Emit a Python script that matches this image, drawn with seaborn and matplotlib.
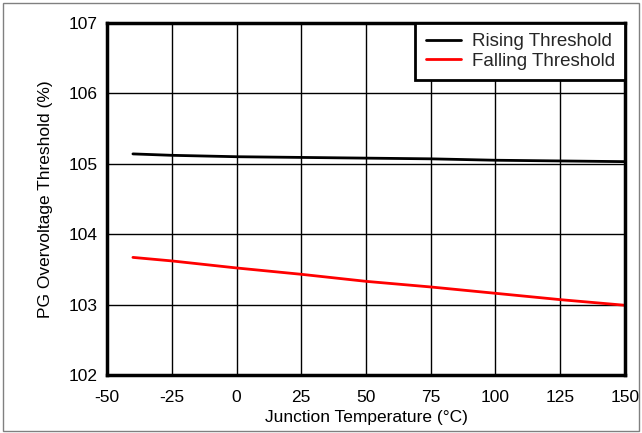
import matplotlib
matplotlib.use("Agg")
import matplotlib.pyplot as plt
import seaborn as sns
import pandas as pd
from matplotlib.patches import Rectangle

temperature = [-40, -25, 0, 25, 50, 75, 100, 125, 150]
rising = [105.14, 105.12, 105.10, 105.09, 105.08, 105.07, 105.05, 105.04, 105.03]
falling = [103.67, 103.62, 103.52, 103.43, 103.33, 103.25, 103.16, 103.07, 102.99]
series_names = ["Rising Threshold", "Falling Threshold"]
x_ticks = [-50, -25, 0, 25, 50, 75, 100, 125, 150]
y_ticks = [102, 103, 104, 105, 106, 107]

df = pd.DataFrame({
    "Temperature": temperature * 2,
    "Threshold": rising + falling,
    "Series": [series_names[0]] * len(temperature) + [series_names[1]] * len(temperature),
})

sns.set_theme(style="white")
plt.rcParams["font.family"] = ["Liberation Sans", "DejaVu Sans"]
plt.rcParams["axes.unicode_minus"] = False

fig = plt.figure(figsize=(6.42, 4.33), dpi=100)
ax = fig.add_axes([0.1667, 0.134, 0.8068, 0.813])

sns.lineplot(data=df, x="Temperature", y="Threshold", hue="Series",
             palette={series_names[0]: "black", series_names[1]: "#ff0000"},
             linewidth=2, ax=ax, legend=True)

ax.set_xlim(-50, 150)
ax.set_ylim(102, 107)
ax.set_xticks(x_ticks)
ax.set_yticks(y_ticks)
ax.grid(True, color="black", linewidth=1)
ax.tick_params(axis="both", length=0, labelsize=12.5, colors="black")
ax.tick_params(axis="y", pad=7)
ax.tick_params(axis="x", pad=10.5)
for s in ax.spines.values():
    s.set_color("black")
    s.set_linewidth(2.5)
ax.set_xlabel("Junction Temperature (°C)", fontsize=12.5, color="black", labelpad=4)
ax.set_ylabel("PG Overvoltage Threshold (%)", fontsize=12.5, color="black", labelpad=11)

leg = ax.legend(loc="upper right", fontsize=13.5, frameon=True, fancybox=False,
                borderpad=0.55, handlelength=1.9, labelspacing=0.12,
                handletextpad=0.55, borderaxespad=0.0)
leg.get_frame().set_edgecolor("black")
leg.get_frame().set_linewidth(2)
leg.get_frame().set_alpha(1)

fig.patches.append(Rectangle((0.004, 0.004), 0.992, 0.989, transform=fig.transFigure,
                             fill=False, edgecolor="#808080", linewidth=1))

fig.savefig("out.png", dpi=100, facecolor="white")
